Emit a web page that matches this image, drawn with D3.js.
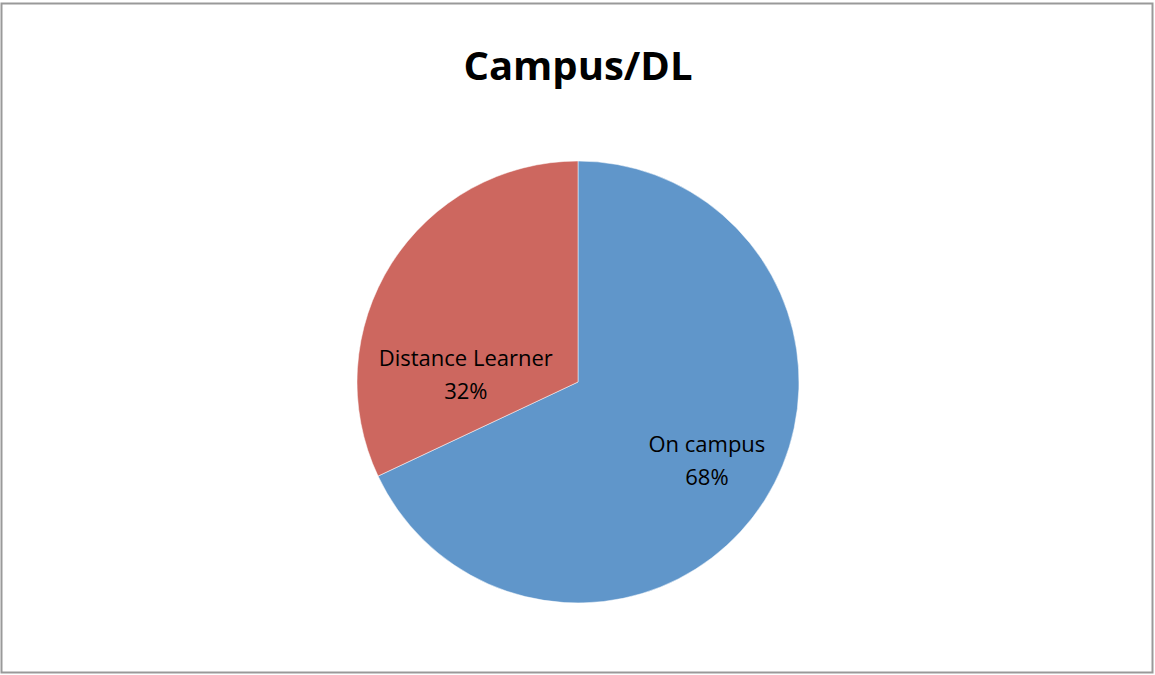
<!DOCTYPE html>
<html>
<head>
<meta charset="utf-8">
<script src="https://cdn.jsdelivr.net/npm/d3@7"></script>
<style>
  body { margin: 0; background: #fff; }
  text { font-family: "Open Sans", "Liberation Sans", sans-serif; }
</style>
</head>
<body>
<svg id="chart" width="1155" height="675"></svg>
<script>
// Chart data
var categories = ['On campus', 'Distance Learner'];
var shares = [68, 32];
var colors = ['#6096CA', '#CD675F'];
var title = 'Campus/DL';

var svg = d3.select('#chart');

var width = 1155,
    height = 675;

// outer frame
svg.append('rect')
  .attr('x', 1.5)
  .attr('y', 3.5)
  .attr('width', width - 4)
  .attr('height', height - 6)
  .attr('fill', '#fff')
  .attr('stroke', '#999')
  .attr('stroke-width', 2);

svg.append('text')
  .attr('x', 578)
  .attr('y', 80)
  .attr('text-anchor', 'middle')
  .attr('font-size', 40)
  .attr('font-weight', 'bold')
  .text(title);

var cx = 578, cy = 382, radius = 221;

var data = categories.map(function(c, i) {
  return { name: c, value: shares[i], color: colors[i] };
});

var pie = d3.pie()
  .sort(null)
  .value(function(d) { return d.value; });

var arc = d3.arc()
  .innerRadius(0)
  .outerRadius(radius);

var g = svg.append('g')
  .attr('transform', 'translate(' + cx + ',' + cy + ')');

var slices = pie(data);

g.selectAll('path')
  .data(slices)
  .enter()
  .append('path')
  .attr('d', arc)
  .attr('fill', function(d) { return d.data.color; })
  .attr('stroke', '#fff')
  .attr('stroke-width', 0.5);

// label placement (best-fit style): radius fraction and angle shift per slice
var labelFit = [
  { r: 0.675, shift: -0.038 },
  { r: 0.51, shift: -0.47 }
];

var labels = g.selectAll('.label')
  .data(slices)
  .enter()
  .append('text')
  .attr('class', 'label')
  .attr('text-anchor', 'middle')
  .attr('font-size', 22)
  .attr('fill', '#000')
  .attr('transform', function(d, i) {
    var a = (d.startAngle + d.endAngle) / 2 + labelFit[i].shift;
    var r = radius * labelFit[i].r;
    return 'translate(' + (Math.sin(a) * r) + ',' + (-Math.cos(a) * r) + ')';
  });

labels.append('tspan')
  .attr('x', 0)
  .attr('y', -5)
  .text(function(d) { return d.data.name; });

labels.append('tspan')
  .attr('x', 0)
  .attr('y', 28)
  .text(function(d) { return d.data.value + '%'; });
</script>
</body>
</html>
